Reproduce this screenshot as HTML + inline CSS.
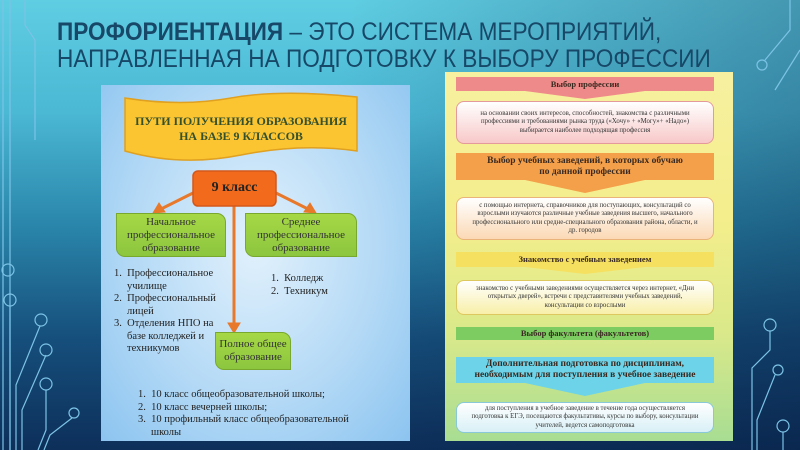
<!DOCTYPE html>
<html><head><meta charset="utf-8">
<style>
*{margin:0;padding:0;box-sizing:border-box}
body{width:800px;height:450px;overflow:hidden;position:relative;font-family:"Liberation Serif",serif;
background:linear-gradient(180deg,#5fcde2 0%,#4bb8d4 25%,#2a86ab 50%,#164f7c 75%,#0d2f5a 100%);}
.ov{position:absolute;left:0;top:0;width:800px;height:450px;background:linear-gradient(100deg,rgba(0,0,0,0) 40%,rgba(5,25,60,0.35) 100%)}
.title{position:absolute;left:57px;top:19px;font-family:"Liberation Sans",sans-serif;font-size:25px;line-height:27px;color:#174868;white-space:nowrap;transform-origin:0 0;transform:scaleX(0.905)}
.ab{position:absolute}
.lp{position:absolute;left:101px;top:85px;width:309px;height:356px;background:radial-gradient(ellipse at 50% 45%,#e2f1fc 0%,#b5daf6 55%,#8cc4f0 100%)}
.rp{position:absolute;left:445px;top:72px;width:288px;height:369px;background:linear-gradient(180deg,#f7f0a0 0%,#f4ee8c 40%,#dbe98a 70%,#a8dd92 100%)}
.g{position:absolute;background:linear-gradient(180deg,#a6d845,#8cc63f);border:1px solid #78a82e;border-radius:0 9px 0 9px;text-align:center;font-size:11px;line-height:13px;color:#333;display:flex;align-items:center;justify-content:center}
.lst{position:absolute;font-size:10.5px;line-height:12.5px;color:#222}
.lst div{padding-left:13px;text-indent:-13px}
.hd{position:absolute;left:456px;width:258px;text-align:center;font-weight:bold;font-size:8.5px;line-height:11px;color:#3a2a20;display:flex;align-items:center;justify-content:center}
.bx{position:absolute;left:456px;width:258px;border-radius:8px;text-align:center;font-size:6.8px;line-height:8.5px;color:#333;display:flex;align-items:center;justify-content:center;padding:0 12px}
</style></head><body>
<div class="ov"></div>
<svg class="ab" style="left:0;top:0" width="800" height="450" fill="none" stroke="#7cc3e6" stroke-width="1.2">
<path d="M3 0 V450 M10 0 V450"/>
<path d="M25 0 V25 L35 40 V140"/>
<circle cx="8" cy="270" r="6"/><circle cx="10" cy="300" r="6"/>
<path d="M10 306 V450"/>
<path d="M40 326 L16 385 V450"/><circle cx="41" cy="320" r="6"/>
<path d="M46 355 L22 410 V450"/><circle cx="46" cy="350" r="6"/>
<path d="M46 390 V430 L38 450"/><circle cx="46" cy="384" r="6"/>
<path d="M72 418 L50 435 L44 450"/><circle cx="74" cy="413" r="5"/>
<path d="M790 0 V30 L765 60"/><circle cx="762" cy="65" r="5"/>
<path d="M800 50 L775 90"/>
<path d="M770 331 V350 L752 368 V450"/><circle cx="770" cy="325" r="6"/>
<path d="M775 375 L757 420 V450"/><circle cx="778" cy="370" r="5"/>
<path d="M783 432 V450"/><circle cx="783" cy="426" r="6"/>
</svg>
<div class="title"><b>ПРОФОРИЕНТАЦИЯ</b> – ЭТО СИСТЕМА МЕРОПРИЯТИЙ,<br>НАПРАВЛЕННАЯ НА ПОДГОТОВКУ К ВЫБОРУ ПРОФЕССИИ</div>

<div class="lp"></div>
<svg class="ab" style="left:101px;top:85px" width="309" height="356">
<path d="M24 13 Q80 22 130 13 T256 12 V66 Q200 58 140 70 T24 66 Z" fill="#fbc531" stroke="#e0a020" stroke-width="1.5"/>
<g stroke="#e8782a" stroke-width="3" fill="#e8782a">
<line x1="92" y1="108" x2="60" y2="124"/><polygon points="52,128 58,118 64,127" stroke-width="1"/>
<line x1="175" y1="108" x2="207" y2="124"/><polygon points="215,128 203,127 209,118" stroke-width="1"/>
<line x1="133" y1="121" x2="133" y2="240"/><polygon points="127,238 139,238 133,248" stroke-width="1"/>
</g>
<rect x="92" y="86" width="83" height="35" rx="5" fill="#f26a1b" stroke="#d4571a" stroke-width="1.5"/>
</svg>
<div class="ab" style="left:125px;top:114px;width:232px;text-align:center;font-weight:bold;font-size:12px;line-height:15px;color:#34502c">ПУТИ ПОЛУЧЕНИЯ ОБРАЗОВАНИЯ<br>НА БАЗЕ 9 КЛАССОВ</div>
<div class="ab" style="left:193px;top:180px;width:83px;text-align:center;font-weight:bold;font-size:14px;color:#222">9 класс</div>
<div class="g" style="left:116px;top:213px;width:110px;height:44px">Начальное<br>профессиональное<br>образование</div>
<div class="g" style="left:245px;top:213px;width:112px;height:44px">Среднее<br>профессиональное<br>образование</div>
<div class="g" style="left:215px;top:332px;width:76px;height:38px">Полное общее<br>образование</div>
<div class="lst" style="left:114px;top:268px;width:110px"><div>1.&nbsp; Профессиональное училище</div><div>2.&nbsp; Профессиональный лицей</div><div>3.&nbsp; Отделения НПО на базе колледжей и техникумов</div></div>
<div class="lst" style="left:271px;top:273px"><div>1.&nbsp; Колледж</div><div>2.&nbsp; Техникум</div></div>
<div class="lst" style="left:138px;top:389px;width:230px"><div>1.&nbsp; 10 класс общеобразовательной школы;</div><div>2.&nbsp; 10 класс вечерней школы;</div><div>3.&nbsp; 10 профильный класс общеобразовательной школы</div></div>

<div class="rp"></div>
<svg class="ab" style="left:445px;top:72px" width="288" height="369">
<polygon points="11,5 269,5 269,19 200,19 140,27 80,19 11,19" fill="#ef8a8a"/>
<polygon points="11,81 269,81 269,108 200,108 140,121 80,108 11,108" fill="#f4a04a"/>
<polygon points="11,180 269,180 269,195 200,195 140,202 80,195 11,195" fill="#f5e060"/>
<polygon points="11,255 269,255 269,268 11,268" fill="#7ccc62"/>
<polygon points="11,285 269,285 269,311 200,311 140,324 80,311 11,311" fill="#6dd3e8"/>
</svg>
<div class="hd" style="top:77px;height:14px">Выбор профессии</div>
<div class="bx" style="top:101px;height:43px;background:linear-gradient(180deg,#fff 0%,#f8c8c8 100%);border:1px solid #e49a9a">на основании своих интересов, способностей, знакомства с различными профессиями и требованиями рынка труда («Хочу» + «Могу»+ «Надо»)<br>выбирается наиболее подходящая профессия</div>
<div class="hd" style="top:153px;height:27px;font-size:9.5px">Выбор учебных заведений, в которых обучаю<br>по данной профессии</div>
<div class="bx" style="top:197px;height:43px;background:linear-gradient(180deg,#fff 0%,#fbd9b5 100%);border:1px solid #eab37a">с помощью интернета, справочников для поступающих, консультаций со взрослыми изучаются различные учебные заведения высшего, начального профессионального или средне-специального образования района, области, и др. городов</div>
<div class="hd" style="top:252px;height:15px">Знакомство с учебным заведением</div>
<div class="bx" style="top:280px;height:35px;background:linear-gradient(180deg,#fff 0%,#f8efa8 100%);border:1px solid #ddc860">знакомство с учебными заведениями осуществляется через интернет, «Дни открытых дверей», встречи с представителями учебных заведений, консультации со взрослыми</div>
<div class="hd" style="top:327px;height:13px">Выбор факультета (факультетов)</div>
<div class="hd" style="top:357px;height:26px;font-size:9.5px">Дополнительная подготовка по дисциплинам,<br>необходимым для поступления в учебное заведение</div>
<div class="bx" style="top:402px;height:31px;background:linear-gradient(180deg,#fff 0%,#d8f0f6 100%);border:1px solid #88c8d8">для поступления в учебное заведение в течение года осуществляется подготовка к ЕГЭ, посещаются факультативы, курсы по выбору, консультации учителей, ведется самоподготовка</div>
</body></html>
